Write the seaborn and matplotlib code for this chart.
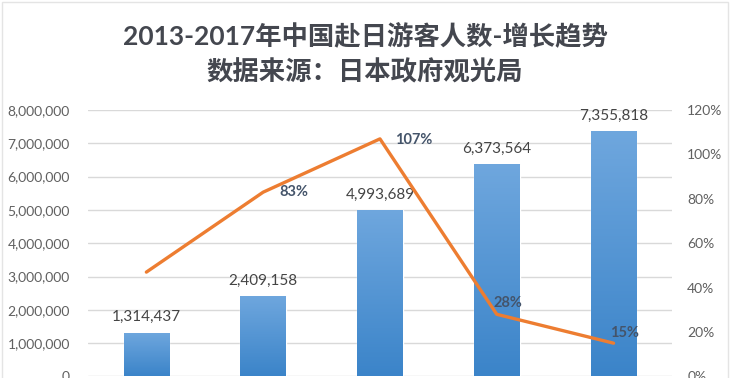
#!/usr/bin/env python3

from matplotlib import pyplot as plt
from matplotlib.colors import LinearSegmentedColormap
from matplotlib.patches import Rectangle
from matplotlib.ticker import FuncFormatter, PercentFormatter
import numpy as np
import pandas as pd
import seaborn as sns

years = ["2013", "2014", "2015", "2016", "2017"]
visitors = [1314437, 2409158, 4993689, 6373564, 7355818]
growth = [0.47, 0.83, 1.07, 0.28, 0.15]
growth_labels = ["", "83%", "107%", "28%", "15%"]
title_lines = ["2013-2017年中国赴日游客人数-增长趋势", "数据来源：日本政府观光局"]


def main():
    df = pd.DataFrame({"year": years, "visitors": visitors, "growth": growth})

    sns.set_theme(style="white")
    plt.rcParams["font.family"] = ["Lato", "Noto Sans CJK SC", "DejaVu Sans"]

    fig = plt.figure(figsize=(7.3, 3.78), dpi=100)
    ax = fig.add_axes([0.1205, 0.004, 0.8, 0.705])

    sns.barplot(data=df, x="year", y="visitors", ax=ax, width=0.39,
                color="#4a8fd3", saturation=1, zorder=2)

    # vertical gradient on each bar, light at the top
    cmap = LinearSegmentedColormap.from_list("bar", ["#3b84c9", "#6fa7de"])
    grad = np.linspace(0, 1, 256).reshape(-1, 1)
    for p in ax.patches:
        x0, y0 = p.get_x(), p.get_y()
        x1, y1 = x0 + p.get_width(), y0 + p.get_height()
        im = ax.imshow(grad, extent=[x0, x1, y0, y1], origin="lower",
                       aspect="auto", cmap=cmap, zorder=2.1)
        im.set_clip_path(p)

    ax.set_xlim(-0.5, len(years) - 0.5)
    ax.set_ylim(0, 8000000)
    ax.set_yticks(np.arange(0, 8000001, 1000000))
    ax.yaxis.set_major_formatter(FuncFormatter(lambda v, _: f"{v:,.0f}"))
    ax.grid(axis="y", color="#d9d9d9", linewidth=1, zorder=0)
    ax.set_axisbelow(True)
    ax.set_xlabel("")
    ax.set_ylabel("")
    ax.set_xticks([])
    ax.tick_params(axis="y", length=0, pad=13, labelsize=10,
                   labelcolor="#606060")
    sns.despine(ax=ax, left=True, bottom=True)

    for i, v in enumerate(visitors):
        ax.annotate(f"{v:,}", (i, v), xytext=(0, 6), textcoords="offset points",
                    ha="center", va="bottom", fontsize=11, color="#444444",
                    zorder=3)

    ax2 = ax.twinx()
    sns.lineplot(x=np.arange(len(years)), y=growth, ax=ax2, color="#ed7d31",
                 linewidth=2.4, zorder=4)
    ax2.set_ylim(0, 1.2)
    ax2.set_yticks(np.arange(0, 1.21, 0.2))
    ax2.yaxis.set_major_formatter(PercentFormatter(1.0, decimals=0))
    ax2.tick_params(axis="y", length=0, pad=11, labelsize=10,
                    labelcolor="#606060")
    ax2.grid(False)
    sns.despine(ax=ax2, left=True, right=True, bottom=True)

    offsets = [(0, 0), (22, 0), (24, -1), (8, 8), (8, 7)]
    for i, (g, lab) in enumerate(zip(growth, growth_labels)):
        if not lab:
            continue
        ax2.annotate(lab, (i, g), xytext=offsets[i], textcoords="offset points",
                     ha="center", va="center", fontsize=10.5,
                     fontweight="bold", color="#44546a", zorder=5)

    fig.text(0.5, 0.907, title_lines[0], ha="center", va="center",
             fontsize=19, fontweight="bold", color="#44474f")
    fig.text(0.5, 0.81, title_lines[1], ha="center", va="center",
             fontsize=19, fontweight="bold", color="#44474f")

    # faint frame of the original chart area
    fig.patches.append(Rectangle((0.003, -0.01), 0.994, 1.005,
                                 transform=fig.transFigure, fill=False,
                                 edgecolor="#e4e4e4", linewidth=1))

    plt.savefig("out.png", dpi=100)


if __name__ == "__main__":
    main()
